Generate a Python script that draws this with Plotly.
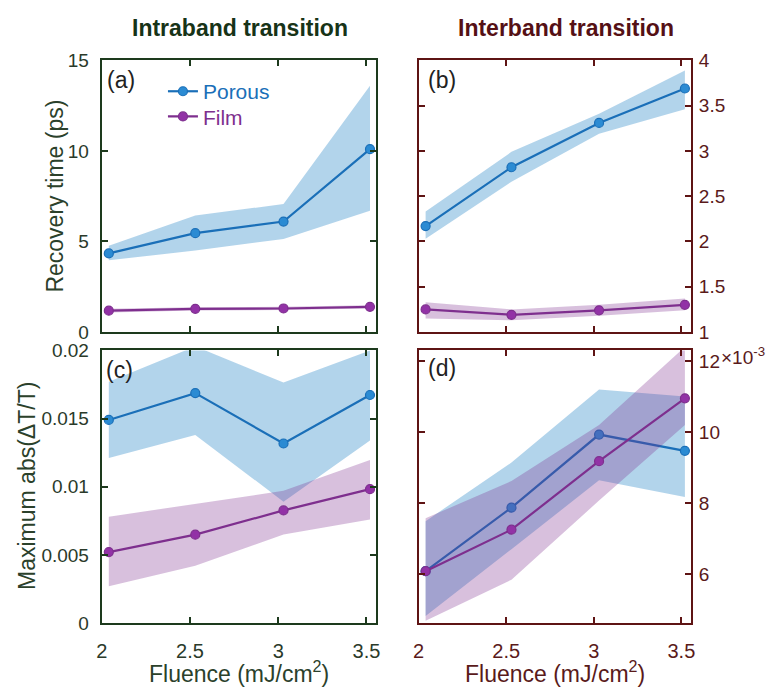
import plotly.graph_objects as go

W, H = 774, 698

# ---------------- data ----------------
fluence = [2.04, 2.53, 3.03, 3.52]
x_ticks = [2, 2.5, 3, 3.5]
x_ticktext = ["2", "2.5", "3", "3.5"]

# (a) recovery time, intraband (ps)
a_porous = [4.34, 5.46, 6.10, 10.1]
a_porous_hi = [4.77, 6.43, 7.07, 13.6]
a_porous_lo = [3.96, 4.50, 5.14, 6.70]
a_film = [1.18, 1.28, 1.30, 1.39]
a_film_hi = [1.28, 1.37, 1.39, 1.48]
a_film_lo = [1.08, 1.19, 1.21, 1.30]

# (b) recovery time, interband (ps)
b_porous = [2.17, 2.82, 3.31, 3.69]
b_porous_hi = [2.33, 2.99, 3.41, 3.89]
b_porous_lo = [2.03, 2.66, 3.19, 3.46]
b_film = [1.25, 1.19, 1.24, 1.30]
b_film_hi = [1.33, 1.25, 1.30, 1.37]
b_film_lo = [1.15, 1.13, 1.18, 1.24]

# (c) maximum abs(dT/T), intraband
c_porous = [0.0149, 0.01687, 0.01317, 0.01673]
c_porous_hi = [0.0177, 0.0203, 0.01765, 0.0200]
c_porous_lo = [0.0121, 0.0138, 0.0089, 0.0134]
c_film = [0.0052, 0.00648, 0.00826, 0.00982]
c_film_hi = [0.0078, 0.00875, 0.0097, 0.01196]
c_film_lo = [0.0027, 0.0042, 0.0065, 0.0076]

# (d) maximum abs(dT/T), interband (units of 1e-3)
d_porous = [6.08, 7.87, 9.93, 9.47]
d_porous_hi = [7.49, 9.14, 11.2, 11.0]
d_porous_lo = [4.82, 6.70, 8.64, 8.17]
d_film = [6.08, 7.25, 9.18, 10.95]
d_film_hi = [7.57, 8.62, 10.2, 12.4]
d_film_lo = [4.68, 5.84, 8.07, 10.2]

a_yticks = [0, 5, 10, 15]
b_yticks = [1, 1.5, 2, 2.5, 3, 3.5, 4]
b_yticktext = ["1", "1.5", "2", "2.5", "3", "3.5", "4"]
c_yticks = [0, 0.005, 0.01, 0.015, 0.02]
c_yticktext = ["0", "0.005", "0.01", "0.015", "0.02"]
d_yticks = [6, 8, 10, 12]

# ---------------- styles ----------------
FONT = "Liberation Sans, Arial, sans-serif"
BLUE = "#1a6fb8"
BLUE_M = "#2b8bd3"
BLUE_BAND = "rgba(0,114,189,0.30)"
PURP = "#7e2f8e"
PURP_M = "#9232a6"
PURP_BAND = "rgba(126,47,142,0.30)"
GREEN = "#1d3a1d"
GREEN_TXT = "#2a3a2a"
MAROON = "#5e1414"
MAROON_TXT = "#5a1a1a"
TICK_SIZE = 19

def px_x(p):
    return p / W

def px_y(p):
    return 1 - p / H

fig = go.Figure()

panels = [
    ("x", "y", a_porous, a_porous_hi, a_porous_lo, a_film, a_film_hi, a_film_lo, True),
    ("x2", "y2", b_porous, b_porous_hi, b_porous_lo, b_film, b_film_hi, b_film_lo, False),
    ("x3", "y3", c_porous, c_porous_hi, c_porous_lo, c_film, c_film_hi, c_film_lo, False),
    ("x4", "y4", d_porous, d_porous_hi, d_porous_lo, d_film, d_film_hi, d_film_lo, False),
]

for xa, ya, p, phi, plo, f, fhi, flo, leg in panels:
    band_x = fluence + fluence[::-1]
    fig.add_trace(go.Scatter(x=band_x, y=phi + plo[::-1], fill="toself", fillcolor=BLUE_BAND,
                             line=dict(width=0), mode="lines", hoverinfo="skip",
                             showlegend=False, xaxis=xa, yaxis=ya))
    fig.add_trace(go.Scatter(x=fluence, y=p, mode="lines+markers",
                             name='<span style="color:%s">Porous</span>' % BLUE,
                             line=dict(color=BLUE, width=2.2),
                             marker=dict(size=9, color=BLUE_M, line=dict(color=BLUE, width=1.2)),
                             showlegend=leg, legend="legend", xaxis=xa, yaxis=ya, cliponaxis=False))
    fig.add_trace(go.Scatter(x=band_x, y=fhi + flo[::-1], fill="toself", fillcolor=PURP_BAND,
                             line=dict(width=0), mode="lines", hoverinfo="skip",
                             showlegend=False, xaxis=xa, yaxis=ya))
    fig.add_trace(go.Scatter(x=fluence, y=f, mode="lines+markers",
                             name='<span style="color:%s">Film</span>' % PURP,
                             line=dict(color=PURP, width=2.2),
                             marker=dict(size=9, color=PURP_M, line=dict(color=PURP, width=1.2)),
                             showlegend=leg, legend="legend2", xaxis=xa, yaxis=ya, cliponaxis=False))

LEFT_DOM = [px_x(97), px_x(375)]
RIGHT_DOM = [px_x(418), px_x(694)]
TOP_DOM = [px_y(332), px_y(52)]
BOT_DOM = [px_y(632), px_y(351)]
XRANGE = [2.0, 3.555]

def xax(domain, anchor, color, txtcolor, labels):
    return dict(domain=domain, anchor=anchor, range=XRANGE, tickvals=x_ticks, ticktext=x_ticktext,
                showticklabels=labels, ticks="inside", ticklen=6, tickwidth=1.5, tickcolor=color,
                showline=True, linewidth=2, linecolor=color, mirror="ticks", showgrid=False,
                zeroline=False, tickfont=dict(family=FONT, size=TICK_SIZE + 1, color=txtcolor),
                ticklabelstandoff=9)

def yax(domain, anchor, rng, vals, text, color, txtcolor, side):
    return dict(domain=domain, anchor=anchor, range=rng, tickvals=vals, ticktext=text, side=side,
                ticks="inside", ticklen=6, tickwidth=1.5, tickcolor=color,
                showline=True, linewidth=2, linecolor=color, mirror="ticks", showgrid=False,
                zeroline=False, tickfont=dict(family=FONT, size=TICK_SIZE, color=txtcolor),
                ticklabelstandoff=7 if side == "left" else 2)

def legend_box(top_px):
    return dict(x=px_x(159), y=px_y(top_px), xanchor="left", yanchor="top",
                bgcolor="rgba(0,0,0,0)", font=dict(family=FONT, size=21),
                itemwidth=30, tracegroupgap=0)

fig.update_layout(
    width=W, height=H, margin=dict(l=0, r=0, t=0, b=0),
    paper_bgcolor="white", plot_bgcolor="white",
    font=dict(family=FONT),
    xaxis=xax(LEFT_DOM, "y", GREEN, GREEN_TXT, False),
    yaxis=yax(TOP_DOM, "x", [0, 15], a_yticks, [str(v) for v in a_yticks], GREEN, GREEN_TXT, "left"),
    xaxis2=xax(RIGHT_DOM, "y2", MAROON, MAROON_TXT, False),
    yaxis2=yax(TOP_DOM, "x2", [1, 4], b_yticks, b_yticktext, MAROON, MAROON_TXT, "right"),
    xaxis3=xax(LEFT_DOM, "y3", GREEN, GREEN_TXT, True),
    yaxis3=yax(BOT_DOM, "x3", [0, 0.02], c_yticks, c_yticktext, GREEN, GREEN_TXT, "left"),
    xaxis4=xax(RIGHT_DOM, "y4", MAROON, MAROON_TXT, True),
    yaxis4=yax(BOT_DOM, "x4", [4.62, 12.3], d_yticks, [str(v) for v in d_yticks], MAROON, MAROON_TXT, "right"),
    legend=legend_box(63),
    legend2=legend_box(89),
    showlegend=True,
)

ann = []
def add_text(text, x, y, size, color, bold=False, angle=0, xanchor="center"):
    ann.append(dict(text=("<b>%s</b>" % text) if bold else text, x=px_x(x), y=px_y(y),
                    xref="paper", yref="paper", showarrow=False, textangle=angle,
                    xanchor=xanchor, yanchor="middle",
                    font=dict(family=FONT, size=size, color=color)))

add_text("Intraband transition", 237, 19, 23, "#173317", bold=True)
add_text("Interband transition", 567, 19, 23, "#551015", bold=True)
add_text("(a)", 100, 72, 23, "#222222", xanchor="left")
add_text("(b)", 425, 72, 23, "#222222", xanchor="left")
add_text("(c)", 99, 371, 23, "#222222", xanchor="left")
add_text("(d)", 425, 369, 23, "#222222", xanchor="left")
add_text("Recovery time (ps)", 50, 192, 23, "#2b412b", angle=-90)
add_text("Maximum abs(ΔT/T)", 22, 491, 23, "#2b412b", angle=-90)
add_text("Fluence (mJ/cm<sup>2</sup>)", 236, 683, 23, "#2b412b")
add_text("Fluence (mJ/cm<sup>2</sup>)", 556, 683, 23, MAROON_TXT)
add_text("×10<sup>-3</sup>", 722, 357, 19, MAROON_TXT, xanchor="left")
fig.update_layout(annotations=ann)

fig.write_html("out.html")
